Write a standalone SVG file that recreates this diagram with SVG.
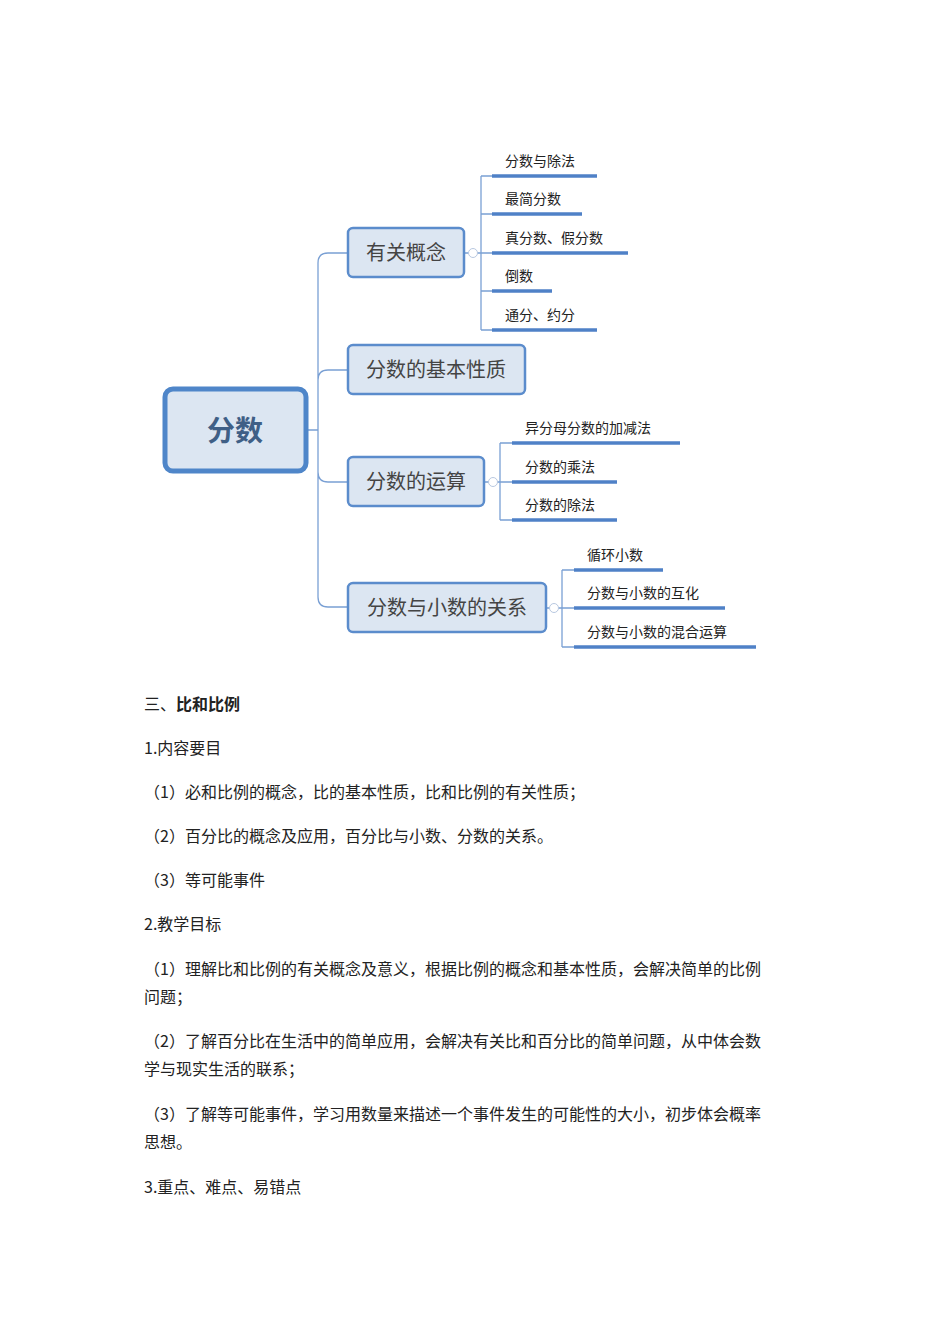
<svg xmlns="http://www.w3.org/2000/svg" width="950" height="1344" viewBox="0 0 950 1344">
<style>
text{font-family:"Noto Sans CJK SC","Liberation Sans",sans-serif;fill:#333}
.n{fill:#dce6f2;stroke:#5b8ccc;stroke-width:2.5}
.nt{font-size:20px;fill:#444;text-anchor:middle}
.lt{font-size:14px;fill:#222}
.c{fill:none;stroke:#7aa0d4;stroke-width:1.3}
.u{stroke:#4f81c7;stroke-width:3.5}
.k{fill:#fff;stroke:#b8c8e0;stroke-width:1}
.b{font-size:16px;fill:#222}
</style>
<g id="connectors">
<path class="c" d="M306 430H318M348 253H328Q318 253 318 263V597Q318 607 328 607H348M318 380Q318 370 328 370H348M318 472Q318 482 328 482H348"/>
<path class="c" d="M464 253H492M481 176V330M481 176H492M481 214H492M481 291H492M481 330H492"/>
<path class="c" d="M484 482H512M500 443V520M500 443H512M500 520H512"/>
<path class="c" d="M546 608H574M562 570V647M562 570H574M562 647H574"/>
<circle class="k" cx="473" cy="253" r="4.5"/><circle class="k" cx="493" cy="482" r="4.5"/><circle class="k" cx="554" cy="608" r="4.5"/>
</g>
<g id="root"><rect x="165" y="389" width="141" height="82" rx="8" fill="#dce6f2" stroke="#4f86c9" stroke-width="5"/><text x="235" y="441" font-size="28" font-weight="bold" text-anchor="middle" style="fill:#3f5f86">分数</text></g>
<g id="n1"><rect class="n" x="348" y="228" width="116" height="49" rx="5"/><text class="nt" x="406" y="260">有关概念</text></g>
<g id="n2"><rect class="n" x="348" y="345" width="177" height="49" rx="5"/><text class="nt" x="436" y="377">分数的基本性质</text></g>
<g id="n3"><rect class="n" x="348" y="457" width="136" height="49" rx="5"/><text class="nt" x="416" y="489">分数的运算</text></g>
<g id="n4"><rect class="n" x="348" y="583" width="198" height="49" rx="5"/><text class="nt" x="447" y="615">分数与小数的关系</text></g>
<g id="l1"><line class="u" x1="492" y1="176" x2="597" y2="176"/><text class="lt" x="505" y="166">分数与除法</text></g>
<g id="l2"><line class="u" x1="492" y1="214" x2="582" y2="214"/><text class="lt" x="505" y="204">最简分数</text></g>
<g id="l3"><line class="u" x1="492" y1="253" x2="628" y2="253"/><text class="lt" x="505" y="243">真分数、假分数</text></g>
<g id="l4"><line class="u" x1="492" y1="291" x2="552" y2="291"/><text class="lt" x="505" y="281">倒数</text></g>
<g id="l5"><line class="u" x1="492" y1="330" x2="597" y2="330"/><text class="lt" x="505" y="320">通分、约分</text></g>
<g id="l6"><line class="u" x1="512" y1="443" x2="680" y2="443"/><text class="lt" x="525" y="433">异分母分数的加减法</text></g>
<g id="l7"><line class="u" x1="512" y1="482" x2="617" y2="482"/><text class="lt" x="525" y="472">分数的乘法</text></g>
<g id="l8"><line class="u" x1="512" y1="520" x2="617" y2="520"/><text class="lt" x="525" y="510">分数的除法</text></g>
<g id="l9"><line class="u" x1="574" y1="570" x2="663" y2="570"/><text class="lt" x="587" y="560">循环小数</text></g>
<g id="l10"><line class="u" x1="574" y1="608" x2="725" y2="608"/><text class="lt" x="587" y="598">分数与小数的互化</text></g>
<g id="l11"><line class="u" x1="574" y1="647" x2="756" y2="647"/><text class="lt" x="587" y="637">分数与小数的混合运算</text></g>
<g id="body">
<text class="b" x="144" y="710">三、<tspan font-weight="bold">比和比例</tspan></text>
<text class="b" x="144" y="754">1.内容要目</text>
<text class="b" x="144" y="798">（1）必和比例的概念，比的基本性质，比和比例的有关性质；</text>
<text class="b" x="144" y="842">（2）百分比的概念及应用，百分比与小数、分数的关系。</text>
<text class="b" x="144" y="886">（3）等可能事件</text>
<text class="b" x="144" y="930">2.教学目标</text>
<text class="b" x="144" y="975">（1）理解比和比例的有关概念及意义，根据比例的概念和基本性质，会解决简单的比例</text>
<text class="b" x="144" y="1003">问题；</text>
<text class="b" x="144" y="1047">（2）了解百分比在生活中的简单应用，会解决有关比和百分比的简单问题，从中体会数</text>
<text class="b" x="144" y="1075">学与现实生活的联系；</text>
<text class="b" x="144" y="1120">（3）了解等可能事件，学习用数量来描述一个事件发生的可能性的大小，初步体会概率</text>
<text class="b" x="144" y="1148">思想。</text>
<text class="b" x="144" y="1193">3.重点、难点、易错点</text>
</g>
</svg>
